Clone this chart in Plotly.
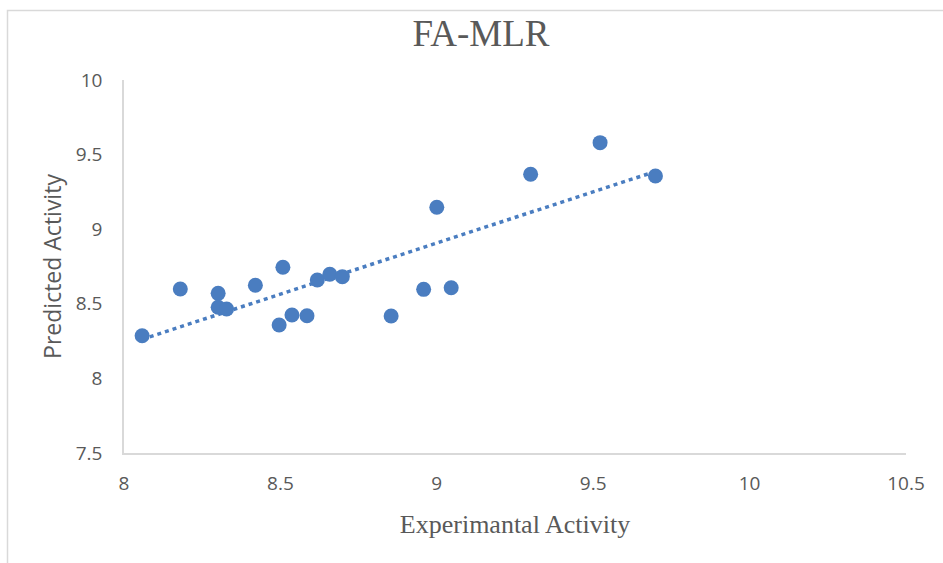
import numpy as np
import plotly.graph_objects as go

# Experimental vs. predicted activity (FA-MLR model)
experimental = [8.058, 8.180, 8.301, 8.301, 8.328, 8.420, 8.508, 8.496, 8.537, 8.585,
                8.618, 8.658, 8.698, 8.854, 8.958, 9.046, 9.000, 9.300, 9.522, 9.699]
predicted = [8.286, 8.599, 8.570, 8.477, 8.465, 8.624, 8.745, 8.358, 8.425, 8.420,
             8.660, 8.698, 8.682, 8.418, 8.597, 8.608, 9.147, 9.368, 9.580, 9.357]

x_ticks = [8, 8.5, 9, 9.5, 10, 10.5]
x_tick_text = ["8", "8.5", "9", "9.5", "10", "10.5"]
y_ticks = [7.5, 8, 8.5, 9, 9.5, 10]
y_tick_text = ["7.5", "8", "8.5", "9", "9.5", "10"]

BLUE = "#4A7DC0"
GREY_TEXT = "#595959"
GREY_LINE = "#D9D9D9"

# Least-squares linear trendline over the data range
slope, intercept = np.polyfit(experimental, predicted, 1)
trend_x = [min(experimental), max(experimental)]
trend_y = [slope * v + intercept for v in trend_x]

fig = go.Figure()
fig.add_trace(go.Scatter(
    x=trend_x, y=trend_y, mode="lines",
    line=dict(color=BLUE, width=3.5, dash="4px,4px"),
    hoverinfo="skip", showlegend=False,
))
fig.add_trace(go.Scatter(
    x=experimental, y=predicted, mode="markers",
    marker=dict(color=BLUE, size=15, line=dict(width=0)),
    showlegend=False,
))

W, H = 943, 563
ML, MR, MT, MB = 124, 37, 80, 110
PW, PH = W - ML - MR, H - MT - MB


def px_to_paper_x(px):
    return (px - ML) / PW


def px_to_paper_y(py):
    return (H - MB - py) / PH


fig.update_layout(
    width=W, height=H,
    margin=dict(l=ML, r=MR, t=MT, b=MB, pad=0),
    paper_bgcolor="white", plot_bgcolor="white",
    title=dict(
        text="FA-MLR",
        font=dict(family="Liberation Serif", size=37, color=GREY_TEXT),
        xref="paper", x=px_to_paper_x(481), xanchor="center",
        yref="container", y=1 - 33 / H, yanchor="middle",
    ),
    xaxis=dict(
        range=[8, 10.5], tickvals=x_ticks, ticktext=x_tick_text,
        showgrid=False, zeroline=False,
        showline=True, linecolor=GREY_LINE, linewidth=1.5,
        ticks="", ticklabelstandoff=12,
        tickfont=dict(family="Open Sans", size=19, color=GREY_TEXT),
        title=dict(text="Experimantal Activity", standoff=20,
                   font=dict(family="Liberation Serif", size=26, color=GREY_TEXT)),
    ),
    yaxis=dict(
        range=[7.5, 10], tickvals=y_ticks, ticktext=y_tick_text,
        showgrid=False, zeroline=False,
        showline=True, linecolor=GREY_LINE, linewidth=1.5,
        ticks="", ticklabelstandoff=16,
        tickfont=dict(family="Open Sans", size=19, color=GREY_TEXT),
        title=dict(text="Predicted Activity", standoff=8,
                   font=dict(family="Open Sans", size=23, color=GREY_TEXT)),
    ),
    shapes=[dict(
        type="rect", xref="paper", yref="paper",
        x0=px_to_paper_x(7.5), x1=px_to_paper_x(W + 20),
        y0=px_to_paper_y(H + 20), y1=px_to_paper_y(10.5),
        line=dict(color=GREY_LINE, width=1.5), fillcolor="rgba(0,0,0,0)",
        layer="below",
    )],
)

fig.write_html("out.html")
